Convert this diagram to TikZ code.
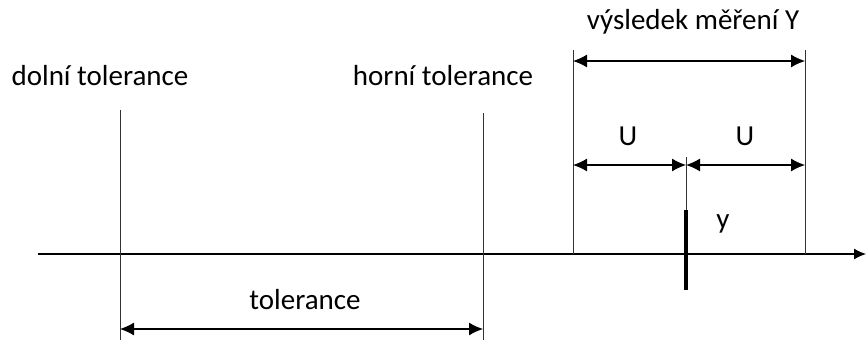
\documentclass[tikz,border=0pt]{standalone}
\usepackage{fontspec}
\setmainfont{Carlito}
\usetikzlibrary{arrows.meta}
\begin{document}
\begin{tikzpicture}[x=1pt,y=-1pt,
  lbl/.style={font=\fontsize{29}{34}\selectfont, text=black, inner sep=0pt},
  thin/.style={line width=1pt, draw=black!80},
  dim/.style={line width=1.2pt, {Latex[length=14pt,width=13pt]}-{Latex[length=14pt,width=13pt]}},
  axis/.style={line width=1.2pt, -{Latex[length=12pt,width=11pt]}}]
\useasboundingbox (0,0) rectangle (866,340);
% axis
\coordinate (a0) at (38,254);
\coordinate (a1) at (866,254);
\draw[axis] (a0) -- (a1);
% tolerance lines
\coordinate (lt) at (120,110); \coordinate (lb) at (120,340);
\coordinate (ut) at (483,113); \coordinate (ub) at (483,340);
\draw[thin] (lt) -- (lb);
\draw[thin] (ut) -- (ub);
\coordinate (tl) at (120,329); \coordinate (tr) at (483,329);
\draw[dim] (tl) -- (tr);
\node[lbl] (tol) at (305,300) {tolerance};
\node[lbl] (dt) at (100,76) {dolní tolerance};
\node[lbl] (ht) at (443,76) {horní tolerance};
% result box
\coordinate (rl) at (573,50); \coordinate (rlb) at (573,254);
\coordinate (rr) at (805,50); \coordinate (rrb) at (805,254);
\draw[thin] (rl) -- (rlb);
\draw[thin] (rr) -- (rrb);
\coordinate (yl) at (573,61); \coordinate (yr) at (805,61);
\draw[dim] (yl) -- (yr);
\node[lbl] (vy) at (693,22) {výsledek měření Y};
% U arrows
\coordinate (ul) at (573,165); \coordinate (um) at (686,165); \coordinate (ur) at (805,165);
\draw[dim] (ul) -- (um);
\draw[dim] (um) -- (ur);
\node[lbl] (u1) at (628,136) {U};
\node[lbl] (u2) at (745,136) {U};
% y mark
\coordinate (mt) at (686,157); \coordinate (mb) at (686,210);
\draw[thin] (mt) -- (mb);
\coordinate (bt) at (686,210); \coordinate (bb) at (686,290);
\draw[line width=4pt] (bt) -- (bb);
\node[lbl] (y) at (723,224) {y};
\end{tikzpicture}
\end{document}
